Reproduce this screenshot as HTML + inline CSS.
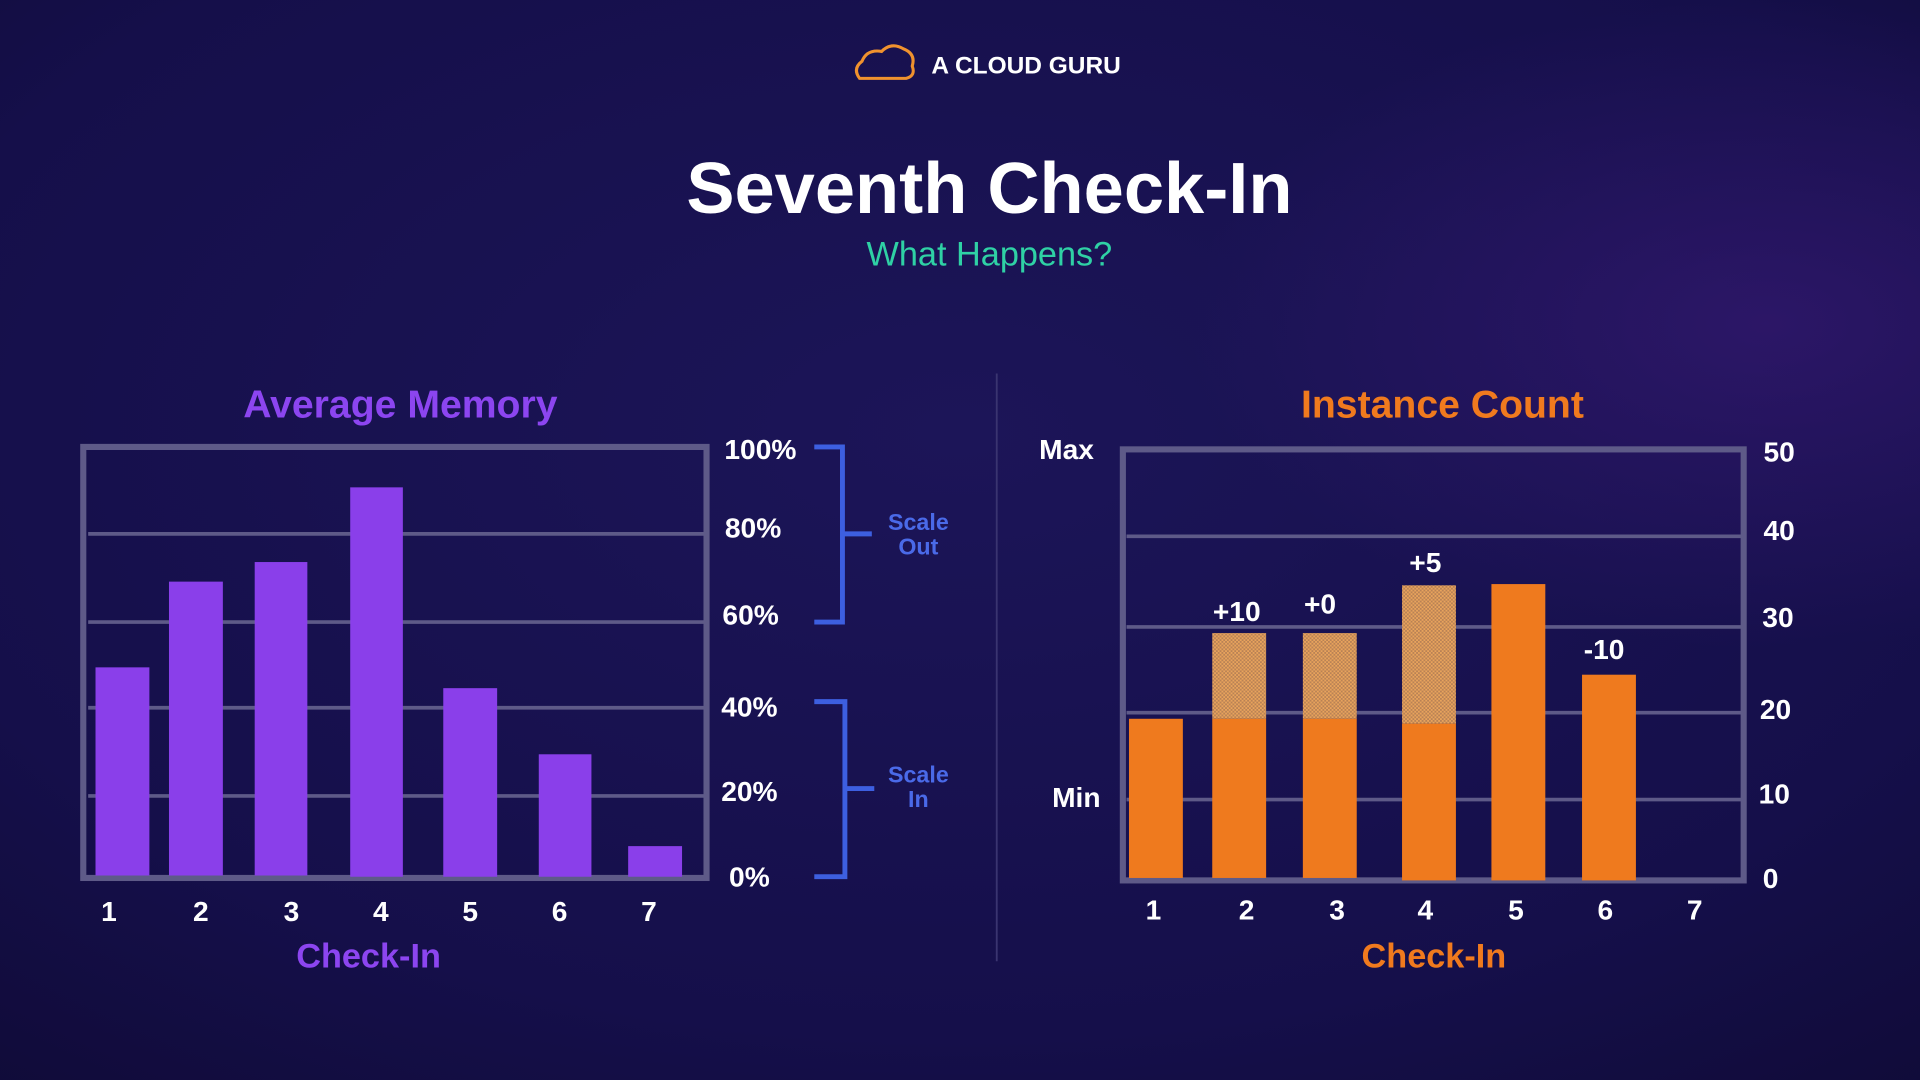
<!DOCTYPE html>
<html><head><meta charset="utf-8"><style>
html,body{margin:0;padding:0;width:1920px;height:1080px;overflow:hidden;background:#150f48}
svg{display:block}
text{font-family:"Liberation Sans",sans-serif;font-weight:bold}
</style></head><body>
<svg width="1920" height="1080" viewBox="0 0 1568 882" xmlns="http://www.w3.org/2000/svg">
<defs>
<radialGradient id="bg" cx="0.5" cy="0.4" r="0.8">
<stop offset="0" stop-color="#1c1558"/><stop offset="0.7" stop-color="#150f4a"/><stop offset="1" stop-color="#100b38"/>
</radialGradient>
<radialGradient id="glow" cx="0.92" cy="0.3" r="0.3">
<stop offset="0" stop-color="#3a1a78" stop-opacity="0.6"/><stop offset="1" stop-color="#3a1a78" stop-opacity="0"/>
</radialGradient>
<pattern id="hatch" width="3" height="3" patternUnits="userSpaceOnUse">
<rect width="3" height="3" fill="#e8a35c"/><rect width="1.5" height="1.5" fill="#b98255"/><rect x="1.5" y="1.5" width="1.5" height="1.5" fill="#b98255"/>
</pattern>
</defs>
<rect width="1568" height="882" fill="url(#bg)"/>
<rect width="1568" height="882" fill="url(#glow)"/>
<path d="M702 64 Q696 56 704 50 Q708 40 720 42 Q728 34 738 40 Q748 44 745 54 Q748 62 740 64 Z" fill="none" stroke="#f0922e" stroke-width="2.5"/>
<text x="838" y="60" font-size="20" fill="#fff" text-anchor="middle">A CLOUD GURU</text>
<text x="808" y="174" font-size="59" fill="#fff" text-anchor="middle">Seventh Check-In</text>
<text x="808" y="217" font-size="28" fill="#2fd1a5" text-anchor="middle" style="font-weight:normal">What Happens?</text>
<text x="327" y="341" font-size="32" fill="#8c45f0" text-anchor="middle">Average Memory</text>
<g stroke="#5e5a88" stroke-width="3">
<line x1="72" y1="436" x2="576" y2="436"/><line x1="72" y1="508" x2="576" y2="508"/>
<line x1="72" y1="578" x2="576" y2="578"/><line x1="72" y1="650" x2="576" y2="650"/>
</g>
<rect x="68" y="365" width="509" height="352" fill="none" stroke="#5e5a88" stroke-width="5"/>
<g fill="#8a3fea">
<rect x="78" y="545" width="44" height="170"/><rect x="138" y="475" width="44" height="240"/>
<rect x="208" y="459" width="43" height="256"/><rect x="286" y="398" width="43" height="318"/>
<rect x="362" y="562" width="44" height="154"/><rect x="440" y="616" width="43" height="100"/>
<rect x="513" y="691" width="44" height="25"/>
</g>
<g font-size="23" fill="#fff" text-anchor="middle">
<text x="89" y="752">1</text><text x="164" y="752">2</text><text x="238" y="752">3</text><text x="311" y="752">4</text><text x="384" y="752">5</text><text x="457" y="752">6</text><text x="530" y="752">7</text>
</g>
<text x="301" y="790" font-size="28" fill="#8c45f0" text-anchor="middle">Check-In</text>
<g font-size="23" fill="#fff" text-anchor="middle">
<text x="621" y="375">100%</text><text x="615" y="439">80%</text><text x="613" y="510">60%</text>
<text x="612" y="585">40%</text><text x="612" y="654">20%</text><text x="612" y="724">0%</text>
</g>
<g fill="none" stroke="#3d5fe0" stroke-width="4">
<path d="M665 365 H688 V508 H665 M688 436 H712"/>
<path d="M665 573 H690 V716 H665 M690 644 H714"/>
</g>
<g font-size="19" fill="#4a6ae8" text-anchor="middle">
<text x="750" y="433">Scale</text><text x="750" y="453">Out</text>
<text x="750" y="639">Scale</text><text x="750" y="659">In</text>
</g>
<line x1="814" y1="305" x2="814" y2="785" stroke="#3a3470" stroke-width="1.5"/>
<text x="1178" y="341" font-size="32" fill="#f07a1e" text-anchor="middle">Instance Count</text>
<g stroke="#5e5a88" stroke-width="3">
<line x1="920" y1="438" x2="1424" y2="438"/><line x1="920" y1="512" x2="1424" y2="512"/>
<line x1="920" y1="582" x2="1424" y2="582"/><line x1="920" y1="653" x2="1424" y2="653"/>
</g>
<rect x="917" y="367" width="507" height="352" fill="none" stroke="#5e5a88" stroke-width="5"/>
<rect x="990" y="517" width="44" height="70" fill="url(#hatch)"/>
<rect x="1064" y="517" width="44" height="70" fill="url(#hatch)"/>
<rect x="1145" y="478" width="44" height="113" fill="url(#hatch)"/>
<g fill="#ef7a1e">
<rect x="922" y="587" width="44" height="130"/><rect x="990" y="587" width="44" height="130"/>
<rect x="1064" y="587" width="44" height="130"/><rect x="1145" y="591" width="44" height="128"/>
<rect x="1218" y="477" width="44" height="242"/><rect x="1292" y="551" width="44" height="168"/>
</g>
<g font-size="23" fill="#fff" text-anchor="middle">
<text x="1010" y="507">+10</text><text x="1078" y="501">+0</text><text x="1164" y="467">+5</text><text x="1310" y="538">-10</text>
<text x="871" y="375">Max</text><text x="879" y="659">Min</text>
<text x="942" y="751">1</text><text x="1018" y="751">2</text><text x="1092" y="751">3</text><text x="1164" y="751">4</text><text x="1238" y="751">5</text><text x="1311" y="751">6</text><text x="1384" y="751">7</text>
<text x="1453" y="377">50</text><text x="1453" y="441">40</text><text x="1452" y="512">30</text><text x="1450" y="587">20</text><text x="1449" y="656">10</text><text x="1446" y="725">0</text>
</g>
<text x="1171" y="790" font-size="28" fill="#f07a1e" text-anchor="middle">Check-In</text>
</svg>
</body></html>
